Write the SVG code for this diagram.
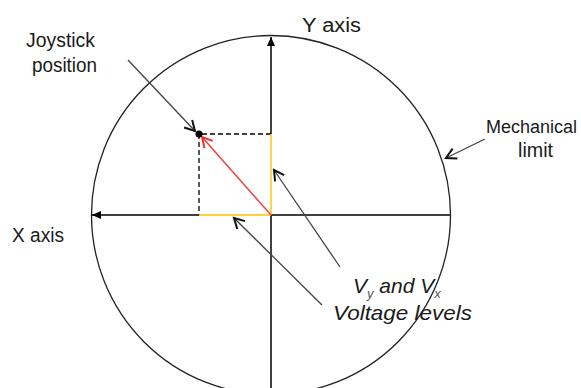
<svg xmlns="http://www.w3.org/2000/svg" width="581" height="388" viewBox="0 0 581 388">
<style>
text{font-family:"Liberation Sans",Arial,sans-serif;font-size:20px;fill:#1a1a1a}
.it{font-style:italic;font-size:21px}
.sub{font-size:13px;fill:#555}
.ax{stroke:#000;stroke-width:1.5;fill:none}
.ptr{stroke:#444;stroke-width:1.3;fill:none}
.dash{stroke:#000;stroke-width:1.3;stroke-dasharray:5 3;fill:none}
.org{stroke:#ffc000;stroke-width:1.4;fill:none}
</style>
<defs>
<marker id="fa" markerWidth="10" markerHeight="10" refX="9" refY="5" orient="auto" markerUnits="userSpaceOnUse"><path d="M0,1 L9,5 L0,9 Z" fill="#000"/></marker>
<marker id="oa" markerWidth="14" markerHeight="14" refX="11" refY="7" orient="auto" markerUnits="userSpaceOnUse"><path d="M1,1.5 L11,7 L1,12.5" fill="none" stroke="#111" stroke-width="2"/></marker>
<marker id="ra" markerWidth="14" markerHeight="14" refX="11" refY="7" orient="auto" markerUnits="userSpaceOnUse"><path d="M1,1.5 L11,7 L1,12.5" fill="none" stroke="#f03030" stroke-width="2"/></marker>
</defs>
<g id="limit-circle"><circle cx="271" cy="215" r="179.5" fill="none" stroke="#222" stroke-width="1.3"/></g>
<g id="connectors">
<line class="ax" x1="271" y1="388" x2="271" y2="215"/>
<line class="ax" x1="271" y1="134" x2="271" y2="37" marker-end="url(#fa)"/>
<line class="ax" x1="450" y1="215" x2="271" y2="215"/>
<line class="ax" x1="199" y1="215" x2="92" y2="215" marker-end="url(#fa)"/>
<polyline class="dash" points="271,134 199,134 199,215"/>
<line class="org" x1="271" y1="134" x2="271" y2="215"/>
<line class="org" x1="199" y1="215" x2="271" y2="215"/>
<line x1="271" y1="215" x2="202" y2="137" stroke="#f04040" stroke-width="1.5" marker-end="url(#ra)"/>
<line class="ptr" x1="128" y1="60" x2="195" y2="131" marker-end="url(#oa)"/>
<line class="ptr" x1="485" y1="139" x2="446" y2="158" marker-end="url(#oa)"/>
<line class="ptr" x1="340" y1="267" x2="274" y2="170" marker-end="url(#oa)"/>
<line class="ptr" x1="322" y1="305" x2="234" y2="218" marker-end="url(#oa)"/>
</g>
<g id="joystick-point"><circle cx="199" cy="134" r="3.5" fill="#000"/></g>
<g id="label-joystick"><text x="26" y="47" textLength="69" lengthAdjust="spacingAndGlyphs">Joystick</text><text x="32" y="72" textLength="65" lengthAdjust="spacingAndGlyphs">position</text></g>
<g id="label-yaxis"><text x="302" y="32" textLength="59" lengthAdjust="spacingAndGlyphs">Y axis</text></g>
<g id="label-xaxis"><text x="12" y="242" textLength="52" lengthAdjust="spacingAndGlyphs">X axis</text></g>
<g id="label-mech"><text x="486" y="133" style="font-size:18px">Mechanical</text><text x="518" y="157" textLength="35" lengthAdjust="spacingAndGlyphs">limit</text></g>
<g id="label-voltage"><text class="it" x="353" y="293">V<tspan class="sub" dy="5">y</tspan><tspan dy="-5"> and V</tspan><tspan class="sub" dy="5">x</tspan></text><text class="it" x="333" y="320" textLength="139" lengthAdjust="spacingAndGlyphs">Voltage levels</text></g>
</svg>
